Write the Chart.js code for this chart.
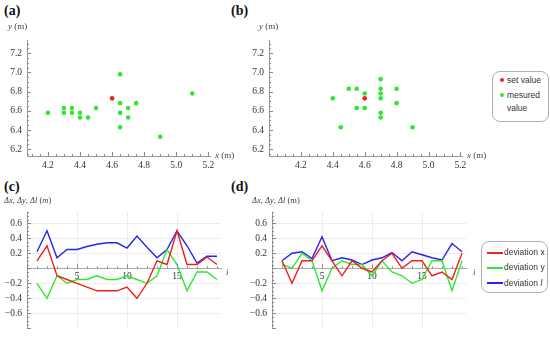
<!DOCTYPE html>
<html>
<head>
<meta charset="utf-8">
<script src="https://cdn.jsdelivr.net/npm/chart.js@4.4.1/dist/chart.umd.min.js"></script>
<style>
  body { margin: 0; width: 550px; height: 339px; background: #fff; position: relative; overflow: hidden; font-family: "Liberation Serif", serif; }
  canvas { position: absolute; }
  .panel { position: absolute; font-weight: bold; font-size: 14px; color: #111; line-height: 1; }
  .ax { position: absolute; font-size: 9px; color: #444; white-space: nowrap; line-height: 1; }
  .legend { position: absolute; border: 1px solid #b0b0b0; border-radius: 8px; font-family: "Liberation Sans", Arial, sans-serif; font-size: 8.5px; color: #333; box-sizing: border-box; }
  .row { position: absolute; left: 0; white-space: nowrap; line-height: 1; }
  .dot { position: absolute; width: 4px; height: 4px; border-radius: 50%; }
  .swatch { position: absolute; width: 16px; height: 2px; }
</style>
</head>
<body>
<canvas id="ca" width="240" height="146" style="left:0;top:30px"></canvas>
<canvas id="cb" width="240" height="146" style="left:240px;top:30px"></canvas>
<canvas id="cc" width="240" height="139" style="left:0;top:200px"></canvas>
<canvas id="cd" width="240" height="139" style="left:240px;top:200px"></canvas>

<div class="panel" style="left:4px;top:4px">(a)</div>
<div class="panel" style="left:231px;top:4px">(b)</div>
<div class="panel" style="left:4px;top:180px">(c)</div>
<div class="panel" style="left:231px;top:180px">(d)</div>

<div class="ax" style="left:8px;top:22px"><i>y</i> (m)</div>
<div class="ax" style="left:215px;top:151px"><i>x</i> (m)</div>
<div class="ax" style="left:259px;top:22px"><i>y</i> (m)</div>
<div class="ax" style="left:467px;top:151px"><i>x</i> (m)</div>
<div class="ax" style="left:4px;top:196px;font-size:8.5px"><i>Δx</i>, <i>Δy</i>, <i>Δl</i> (<i>m</i>)</div>
<div class="ax" style="left:252px;top:196px;font-size:8.5px"><i>Δx</i>, <i>Δy</i>, <i>Δl</i> (m)</div>
<div class="ax" style="left:226px;top:268px"><i>i</i></div>
<div class="ax" style="left:473px;top:268px"><i>i</i></div>

<div class="legend" id="legB" style="left:492px;top:71px;width:57px;height:51px"></div>
<div class="legend" id="legD" style="left:481px;top:241px;width:67px;height:52px"></div>

<script>
// (a) / (b) positions, metres
const aSetX = [4.6];
const aSetY = [6.73];
const aMeasX = [4.2, 4.3, 4.3, 4.35, 4.35, 4.4, 4.4, 4.45, 4.5, 4.65, 4.65, 4.65, 4.65, 4.7, 4.7, 4.75, 4.9, 5.1];
const aMeasY = [6.58, 6.63, 6.58, 6.63, 6.58, 6.58, 6.53, 6.53, 6.63, 6.98, 6.68, 6.58, 6.43, 6.63, 6.53, 6.68, 6.33, 6.78];

const bSetX = [4.6];
const bSetY = [6.73];
const bMeasX = [4.4, 4.45, 4.5, 4.55, 4.55, 4.6, 4.6, 4.7, 4.7, 4.7, 4.7, 4.7, 4.7, 4.8, 4.8, 4.9];
const bMeasY = [6.73, 6.43, 6.83, 6.83, 6.63, 6.78, 6.63, 6.93, 6.83, 6.78, 6.73, 6.58, 6.53, 6.83, 6.68, 6.43];

// (c) / (d) deviations per measurement i
const measIdx = [1, 2, 3, 4, 5, 6, 7, 8, 9, 10, 11, 12, 13, 14, 15, 16, 17, 18, 19];
const cDevX = [0.10, 0.30, -0.10, -0.15, -0.20, -0.25, -0.30, -0.30, -0.30, -0.25, -0.40, -0.20, 0.10, 0.05, 0.50, 0.05, 0.05, 0.15, 0.05];
const cDevY = [-0.20, -0.40, -0.10, -0.20, -0.15, -0.15, -0.10, -0.15, -0.15, -0.10, -0.15, -0.20, -0.10, 0.25, 0.05, -0.30, -0.05, -0.05, -0.15];
const cDevL = [0.22, 0.50, 0.14, 0.25, 0.25, 0.29, 0.32, 0.34, 0.34, 0.27, 0.43, 0.28, 0.14, 0.25, 0.50, 0.30, 0.07, 0.16, 0.16];
const dDevX = [0.10, -0.20, 0.10, 0.10, 0.30, 0.10, -0.10, 0.10, 0.00, -0.05, 0.10, 0.20, 0.00, 0.10, 0.10, -0.10, -0.05, -0.15, 0.20];
const dDevY = [0.05, 0.00, 0.20, 0.10, -0.30, 0.00, 0.10, 0.05, 0.05, -0.10, 0.10, -0.05, -0.10, -0.20, -0.15, 0.10, 0.10, -0.30, 0.10];
const dDevL = [0.10, 0.20, 0.22, 0.13, 0.42, 0.10, 0.14, 0.11, 0.05, 0.11, 0.14, 0.21, 0.10, 0.22, 0.18, 0.14, 0.11, 0.33, 0.22];

// tick labels
const posXTicks = [4.2, 4.4, 4.6, 4.8, 5.0, 5.2];
const posYTicks = [6.2, 6.4, 6.6, 6.8, 7.0, 7.2];
const devXTicks = [5, 10, 15];
const devYTicks = [-0.6, -0.4, -0.2, 0.2, 0.4, 0.6];

const scatterNames = ['set value', 'mesured value'];
const devNames = ['deviation x', 'deviation y', 'deviation <i>l</i>'];
const RED = '#f01e1e', GREEN = '#2ee82e', BLUE = '#2424f0';

Chart.defaults.font.family = '"Liberation Serif", serif';
Chart.defaults.font.size = 9.5;
Chart.defaults.color = '#333';

// Mathematica style inward tick marks
const inTicks = {
  id: 'inTicks',
  afterDatasetsDraw(chart, args, o) {
    const { ctx, chartArea: a, scales: { x, y } } = chart;
    const yLine = o.xAt === undefined ? a.bottom : y.getPixelForValue(o.xAt);
    ctx.save();
    ctx.strokeStyle = '#888';
    ctx.lineWidth = 1;
    ctx.beginPath();
    const rx = Math.round(o.xMajor / o.xMinor);
    for (let k = Math.ceil(x.min / o.xMinor - 1e-9); k * o.xMinor <= x.max + 1e-9; k++) {
      const px = Math.round(x.getPixelForValue(k * o.xMinor)) + 0.5;
      const len = k % rx === 0 ? 4 : 2;
      ctx.moveTo(px, yLine);
      ctx.lineTo(px, yLine - len);
    }
    const ry = Math.round(o.yMajor / o.yMinor);
    for (let k = Math.ceil(y.min / o.yMinor - 1e-9); k * o.yMinor <= y.max + 1e-9; k++) {
      const py = Math.round(y.getPixelForValue(k * o.yMinor)) + 0.5;
      const len = k % ry === 0 ? 4 : 2;
      ctx.moveTo(a.left, py);
      ctx.lineTo(a.left + len, py);
    }
    ctx.stroke();
    ctx.restore();
  }
};

const pts = (xs, ys) => xs.map((v, k) => ({ x: v, y: ys[k] }));
const fixTicks = arr => s => { s.ticks = arr.map(v => ({ value: v })); };

function scatterChart(id, setX, setY, measX, measY, xMin, yAxisW, padRight) {
  new Chart(document.getElementById(id), {
    type: 'scatter',
    data: {
      datasets: [
        { label: scatterNames[0], data: pts(setX, setY), backgroundColor: RED, pointRadius: 2.3, borderWidth: 0 },
        { label: scatterNames[1], data: pts(measX, measY), backgroundColor: GREEN, pointRadius: 2.3, borderWidth: 0 }
      ]
    },
    options: {
      responsive: false,
      animation: false,
      layout: { autoPadding: false, padding: { top: 7, right: padRight, left: 0, bottom: 0 } },
      plugins: { legend: { display: false }, tooltip: { enabled: false },
        inTicks: { xMinor: 0.05, xMajor: 0.2, yMinor: 0.05, yMajor: 0.2 } },
      scales: {
        x: {
          type: 'linear', min: xMin, max: 5.21,
          afterBuildTicks: fixTicks(posXTicks),
          afterFit: s => { s.height = 20; },
          grid: { display: false, drawTicks: false },
          border: { color: '#999' },
          ticks: { padding: 4, callback: v => v.toFixed(1) }
        },
        y: {
          min: 6.13, max: 7.33,
          afterBuildTicks: fixTicks(posYTicks),
          afterFit: s => { s.width = yAxisW; },
          grid: { display: false, drawTicks: false },
          border: { color: '#999' },
          ticks: { padding: 5, callback: v => v.toFixed(1) }
        }
      }
    },
    plugins: [inTicks]
  });
}

function devChart(id, dx, dy, dl, yAxisW, padRight) {
  const line = (label, vals, color) => ({
    label, data: pts(measIdx, vals), borderColor: color, borderWidth: 1.4,
    pointRadius: 0, tension: 0, fill: false
  });
  new Chart(document.getElementById(id), {
    type: 'line',
    data: { datasets: [line(devNames[0], dx, RED), line(devNames[1], dy, GREEN), line(devNames[2], dl, BLUE)] },
    options: {
      responsive: false,
      animation: false,
      layout: { autoPadding: false, padding: { top: 12, right: padRight, left: 0, bottom: 0 } },
      plugins: { legend: { display: false }, tooltip: { enabled: false },
        inTicks: { xAt: 0, xMinor: 1, xMajor: 5, yMinor: 0.05, yMajor: 0.2 } },
      scales: {
        x: {
          type: 'linear', min: 0, max: 19.4, position: { y: 0 },
          afterBuildTicks: fixTicks(devXTicks),
          grid: { color: '#ececec', drawTicks: false },
          border: { color: '#aaa' },
          ticks: { padding: 3, callback: v => String(v) }
        },
        y: {
          min: -0.8, max: 0.75,
          afterBuildTicks: fixTicks(devYTicks),
          afterFit: s => { s.width = yAxisW; },
          grid: { color: '#ececec', drawTicks: false },
          border: { color: '#999' },
          ticks: { padding: 5, callback: v => (v < 0 ? '\u2212' : '') + Math.abs(v).toFixed(1) }
        }
      }
    },
    plugins: [inTicks]
  });
}

scatterChart('ca', aSetX, aSetY, aMeasX, aMeasY, 4.07, 27, 30);
scatterChart('cb', bSetX, bSetY, bMeasX, bMeasY, 4.0, 29, 18);
devChart('cc', cDevX, cDevY, cDevL, 27, 19);
devChart('cd', dDevX, dDevY, dDevL, 32, 14);

// legends
const legB = document.getElementById('legB');
legB.innerHTML =
  `<span class="dot" style="left:7px;top:6px;background:${RED}"></span>` +
  `<span class="row" style="left:14px;top:4px">${scatterNames[0]}</span>` +
  `<span class="dot" style="left:7px;top:21px;background:${GREEN}"></span>` +
  `<span class="row" style="left:14px;top:19px">${scatterNames[1].split(' ')[0]}</span>` +
  `<span class="row" style="left:14px;top:32px">${scatterNames[1].split(' ')[1]}</span>`;

const legD = document.getElementById('legD');
legD.innerHTML = devNames.map((n, k) => {
  const top = 6 + k * 15.3;
  const c = [RED, GREEN, BLUE][k];
  return `<span class="swatch" style="left:5px;top:${top + 3.5}px;background:${c}"></span>` +
         `<span class="row" style="left:22px;top:${top}px">${n}</span>`;
}).join('');
</script>
</body>
</html>
